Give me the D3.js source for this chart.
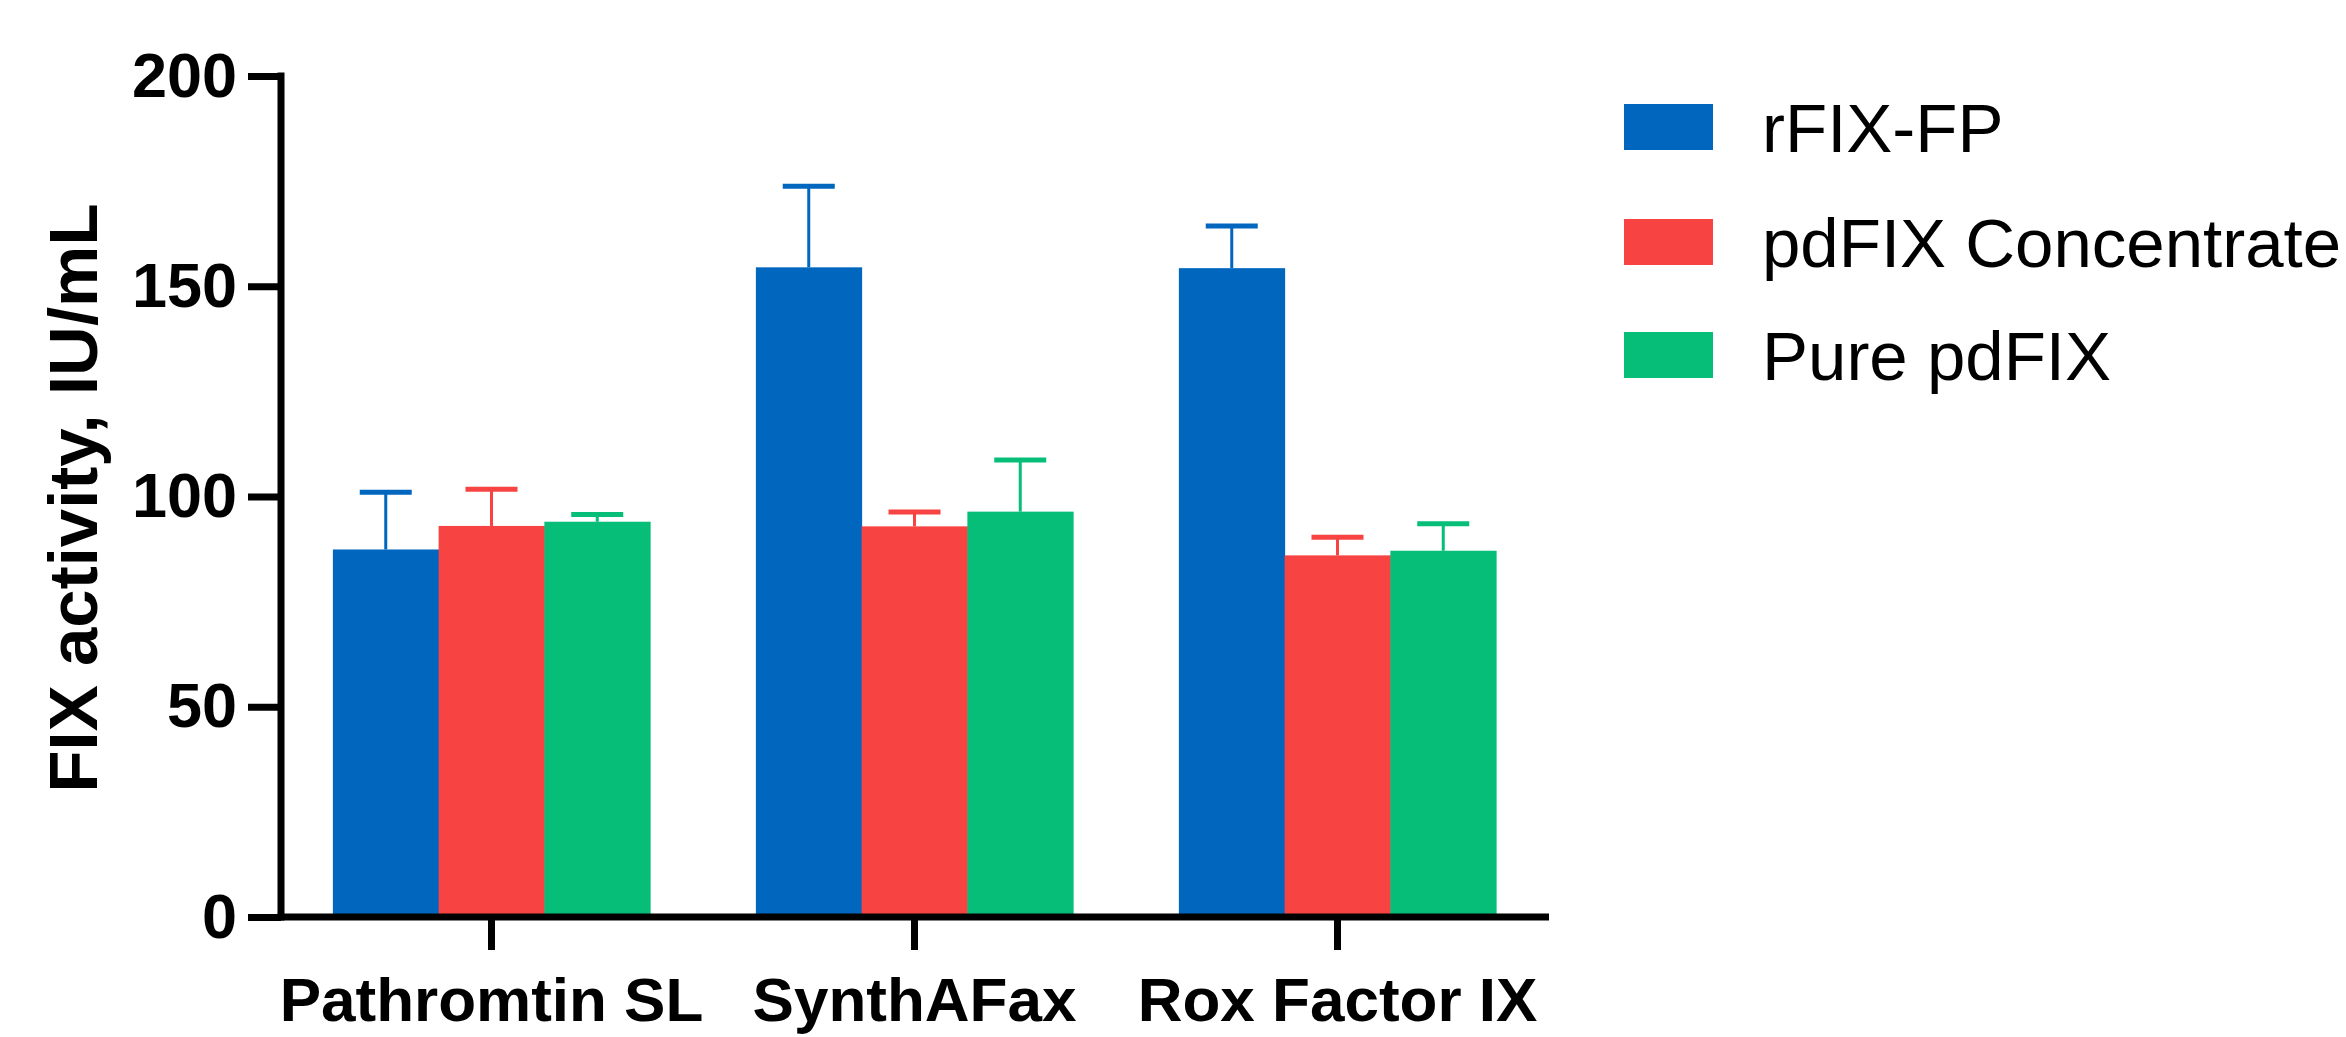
<!DOCTYPE html>
<html><head><meta charset="utf-8">
<script src="https://cdn.jsdelivr.net/npm/d3@7"></script>
<style>body{margin:0;background:#fff;overflow:hidden}</style>
</head><body>
<script>
const categories = ["Pathromtin SL", "SynthAFax", "Rox Factor IX"];
const seriesNames = ["rFIX-FP", "pdFIX Concentrate", "Pure pdFIX"];
const rfixMeans = [87.4, 154.5, 154.3];
const rfixSD = [13.6, 19.3, 10.0];
const pdConcMeans = [93.0, 92.9, 86.0];
const pdConcSD = [8.7, 3.4, 4.3];
const purePdMeans = [94.0, 96.4, 87.1];
const purePdSD = [1.7, 12.3, 6.4];
const yTicks = [0, 50, 100, 150, 200];
const colors = ["#0066BE", "#F84343", "#06BE78"];
const yTitle = "FIX activity, IU/mL";

const W = 2346, H = 1037;
const means = [rfixMeans, pdConcMeans, purePdMeans];
const sds = [rfixSD, pdConcSD, purePdSD];
const data = [];
categories.forEach((c, ci) => seriesNames.forEach((s, si) => {
  data.push({cat: c, series: s, si, mean: means[si][ci], sd: sds[si][ci]});
}));

const svg = d3.select("body").append("svg").attr("width", W).attr("height", H);

const x0 = d3.scaleBand().domain(categories).range([280, 1549]).paddingInner(0.25).paddingOuter(0.125);
const x1 = d3.scaleBand().domain(seriesNames).range([0, x0.bandwidth()]);
const y = d3.scaleLinear().domain([0, 200]).range([917, 76]);
const color = d3.scaleOrdinal().domain(seriesNames).range(colors);

// bars
svg.append("g").selectAll("rect").data(data).join("rect")
  .attr("x", d => x0(d.cat) + x1(d.series))
  .attr("y", d => y(d.mean))
  .attr("width", x1.bandwidth() + 0.5)
  .attr("height", d => y(0) - y(d.mean))
  .attr("fill", d => color(d.series));

// error bars (upper only)
const eb = svg.append("g").selectAll("g").data(data).join("g")
  .attr("stroke", d => color(d.series));
eb.append("line")
  .attr("x1", d => x0(d.cat) + x1(d.series) + x1.bandwidth() / 2)
  .attr("x2", d => x0(d.cat) + x1(d.series) + x1.bandwidth() / 2)
  .attr("y1", d => y(d.mean))
  .attr("y2", d => y(d.mean + d.sd))
  .attr("stroke-width", 3);
eb.append("line")
  .attr("x1", d => x0(d.cat) + x1(d.series) + x1.bandwidth() / 2 - 26)
  .attr("x2", d => x0(d.cat) + x1(d.series) + x1.bandwidth() / 2 + 26)
  .attr("y1", d => y(d.mean + d.sd))
  .attr("y2", d => y(d.mean + d.sd))
  .attr("stroke-width", 5);

const FONT = "Liberation Sans, Arial, sans-serif";

// y axis
const gy = svg.append("g").attr("transform", "translate(281,0)")
  .call(d3.axisLeft(y).tickValues(yTicks).tickSize(33).tickSizeOuter(0).tickPadding(11));
gy.select(".domain").attr("stroke", "#000").attr("stroke-width", 7)
  .attr("d", `M0,${y(200) - 3.5}V${y(0) + 3.5}`);
gy.selectAll(".tick line").attr("stroke", "#000").attr("stroke-width", 7);
gy.selectAll(".tick text").attr("font-family", FONT)
  .attr("font-weight", "bold").attr("font-size", 63).attr("fill", "#000");

// x axis
const gx = svg.append("g").attr("transform", `translate(0,${y(0)})`)
  .call(d3.axisBottom(x0).tickSize(33).tickSizeOuter(0).tickPadding(27));
gx.select(".domain").attr("stroke", "#000").attr("stroke-width", 7)
  .attr("d", `M277.5,0H1549`);
gx.selectAll(".tick line").attr("stroke", "#000").attr("stroke-width", 7);
gx.selectAll(".tick text").attr("font-family", FONT)
  .attr("font-weight", "bold").attr("font-size", 62).attr("fill", "#000");

// y title
svg.append("text")
  .attr("transform", "translate(97,498) rotate(-90)")
  .attr("text-anchor", "middle")
  .attr("font-family", FONT)
  .attr("font-weight", "bold").attr("font-size", 69)
  .text(yTitle);

// legend
const legendY = [127, 242, 355];
const lg = svg.append("g").selectAll("g").data(seriesNames).join("g")
  .attr("transform", (d, i) => `translate(1624,${legendY[i]})`);
lg.append("rect").attr("x", 0).attr("y", -23).attr("width", 89).attr("height", 46)
  .attr("fill", d => color(d));
lg.append("text").attr("x", 138).attr("dy", "0.36em")
  .attr("font-family", FONT)
  .attr("font-size", 69).attr("fill", "#000")
  .text(d => d);
</script>
</body></html>
